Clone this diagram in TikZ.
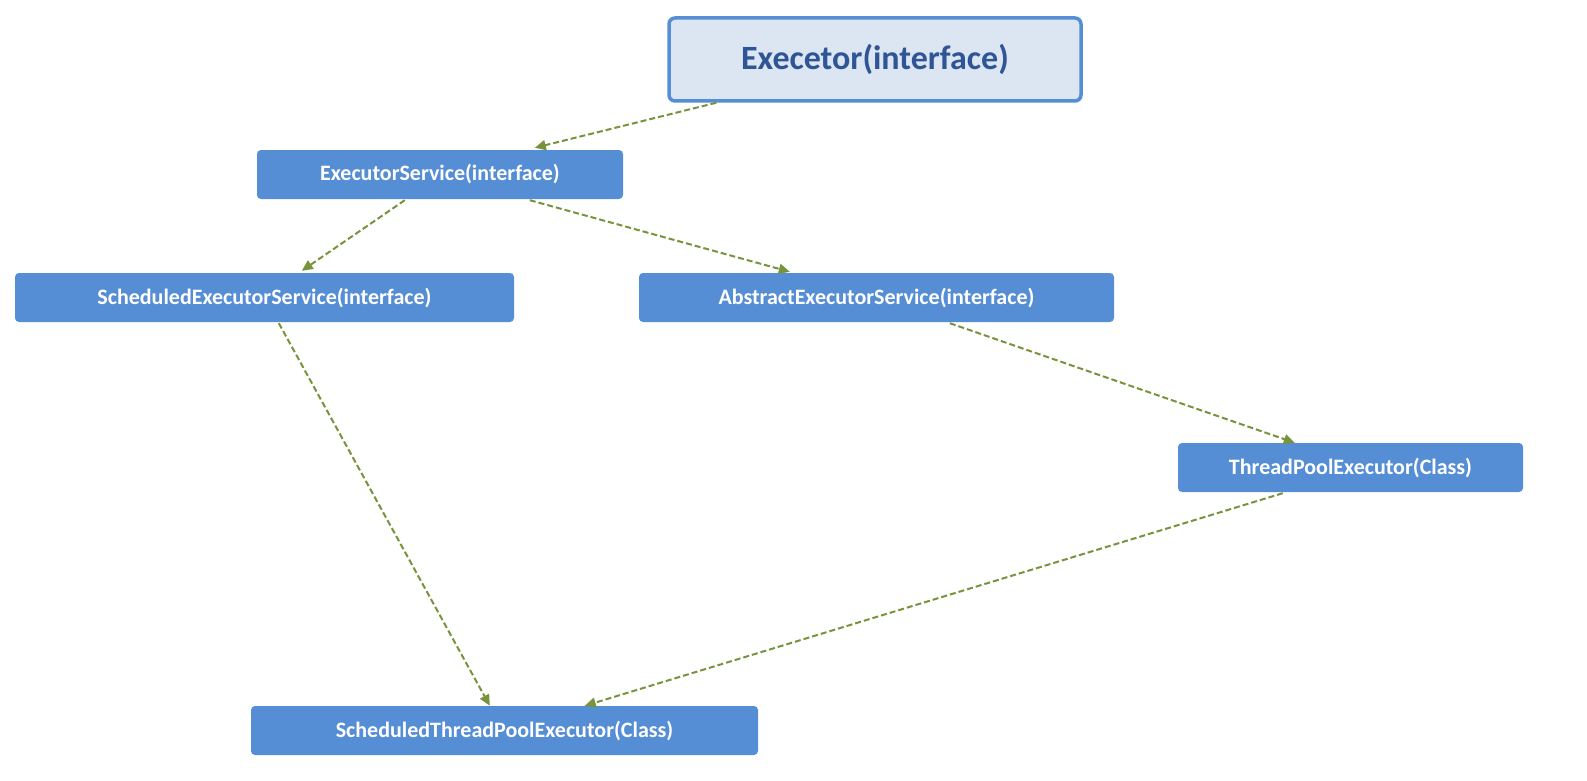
\documentclass[tikz,border=0pt]{standalone}
\usepackage{fontspec}
\setmainfont{Carlito}
\usetikzlibrary{calc,arrows.meta}
\definecolor{boxb}{HTML}{558ED5}
\definecolor{topf}{HTML}{DCE6F2}
\definecolor{topt}{HTML}{2F5597}
\definecolor{arr}{HTML}{77933C}
\begin{document}
\begin{tikzpicture}[x=1pt,y=-1pt,
  box/.style={draw=none,fill=boxb,rounded corners=4pt,text=white,font=\bfseries\fontsize{22}{24}\selectfont,minimum height=49pt,inner sep=0pt},
  link/.style={draw=arr,line width=2pt,dash pattern=on 6pt off 3pt,-{Triangle[length=11pt,width=10pt]}}]
\useasboundingbox[fill=white] (0,0) rectangle (1587,781);
\node[draw=boxb,line width=3.5pt,fill=topf,rounded corners=6pt,text=topt,font=\bfseries\fontsize{34}{38}\selectfont,minimum width=412pt,minimum height=83pt,inner sep=0pt] (ex) at (875,59.5) {Execetor(interface)};
\node[box,minimum width=366pt] (es) at (440,174.5) {ExecutorService(interface)};
\node[box,minimum width=499pt] (ses) at (264.5,297.5) {ScheduledExecutorService(interface)};
\node[box,minimum width=475pt] (aes) at (876.5,297.5) {AbstractExecutorService(interface)};
\node[box,minimum width=345pt] (tpe) at (1350.5,467.5) {ThreadPoolExecutor(Class)};
\node[box,minimum width=507pt] (stpe) at (504.5,730.5) {ScheduledThreadPoolExecutor(Class)};
\draw[link] ($(ex.south west)+(49,0)$) -- ($(es.north west)+(278,-2)$);
\draw[link] ($(es.south west)+(148,1)$) -- ($(ses.north west)+(287,-2)$);
\draw[link] ($(es.south west)+(273,1)$) -- ($(aes.north west)+(151,-1)$);
\draw[link] ($(aes.south west)+(311,1)$) -- ($(tpe.north west)+(117,0)$);
\draw[link] ($(ses.south west)+(264,1)$) -- ($(stpe.north west)+(239,0)$);
\draw[link] ($(tpe.south west)+(105,1)$) -- ($(stpe.north west)+(334,0)$);
\end{tikzpicture}
\end{document}
